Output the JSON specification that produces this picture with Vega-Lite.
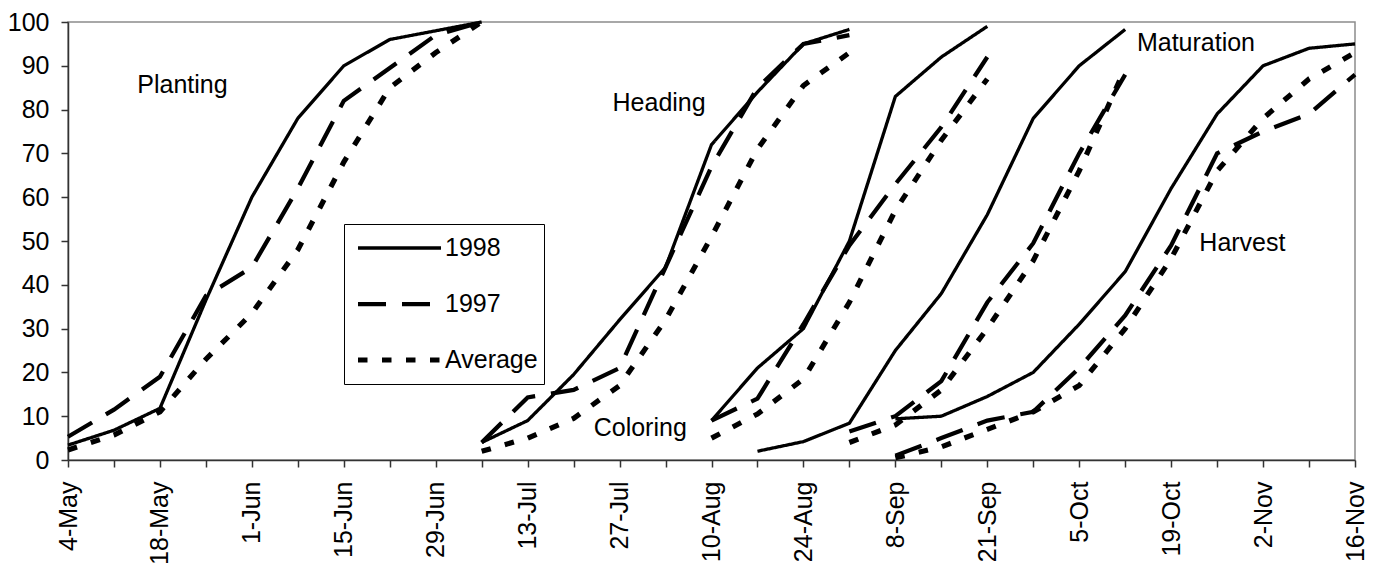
{
  "$schema": "https://vega.github.io/schema/vega-lite/v6.json",
  "width": 1287,
  "height": 438,
  "autosize": "none",
  "padding": {"left": 68, "top": 22, "right": 24, "bottom": 105},
  "background": "white",
  "config": {
    "font": "Liberation Sans",
    "view": {"stroke": "#8c8c8c", "strokeWidth": 1.5}
  },
  "datasets": {
    "progress": [
      {"stage": "Planting", "series": "1998", "week": 0, "pct": 3.4},
      {"stage": "Planting", "series": "1998", "week": 1, "pct": 6.8},
      {"stage": "Planting", "series": "1998", "week": 2, "pct": 11.8},
      {"stage": "Planting", "series": "1998", "week": 3, "pct": 36.5},
      {"stage": "Planting", "series": "1998", "week": 4, "pct": 60},
      {"stage": "Planting", "series": "1998", "week": 5, "pct": 78},
      {"stage": "Planting", "series": "1998", "week": 6, "pct": 90},
      {"stage": "Planting", "series": "1998", "week": 7, "pct": 96},
      {"stage": "Planting", "series": "1998", "week": 8, "pct": 98},
      {"stage": "Planting", "series": "1998", "week": 9, "pct": 100},
      {"stage": "Planting", "series": "1997", "week": 0, "pct": 5.3},
      {"stage": "Planting", "series": "1997", "week": 1, "pct": 11.5},
      {"stage": "Planting", "series": "1997", "week": 2, "pct": 19},
      {"stage": "Planting", "series": "1997", "week": 3, "pct": 37.5},
      {"stage": "Planting", "series": "1997", "week": 4, "pct": 44},
      {"stage": "Planting", "series": "1997", "week": 5, "pct": 62},
      {"stage": "Planting", "series": "1997", "week": 6, "pct": 82},
      {"stage": "Planting", "series": "1997", "week": 7, "pct": 89.5},
      {"stage": "Planting", "series": "1997", "week": 8, "pct": 97},
      {"stage": "Planting", "series": "1997", "week": 9, "pct": 100},
      {"stage": "Planting", "series": "Average", "week": 0, "pct": 2.3},
      {"stage": "Planting", "series": "Average", "week": 1, "pct": 5.7},
      {"stage": "Planting", "series": "Average", "week": 2, "pct": 11},
      {"stage": "Planting", "series": "Average", "week": 3, "pct": 23},
      {"stage": "Planting", "series": "Average", "week": 4, "pct": 33.5},
      {"stage": "Planting", "series": "Average", "week": 5, "pct": 48},
      {"stage": "Planting", "series": "Average", "week": 6, "pct": 68},
      {"stage": "Planting", "series": "Average", "week": 7, "pct": 85},
      {"stage": "Planting", "series": "Average", "week": 8, "pct": 93},
      {"stage": "Planting", "series": "Average", "week": 9, "pct": 100},

      {"stage": "Heading", "series": "1998", "week": 9, "pct": 4},
      {"stage": "Heading", "series": "1998", "week": 10, "pct": 9},
      {"stage": "Heading", "series": "1998", "week": 11, "pct": 19.5},
      {"stage": "Heading", "series": "1998", "week": 12, "pct": 32},
      {"stage": "Heading", "series": "1998", "week": 13, "pct": 44},
      {"stage": "Heading", "series": "1998", "week": 14, "pct": 72},
      {"stage": "Heading", "series": "1998", "week": 15, "pct": 84},
      {"stage": "Heading", "series": "1998", "week": 16, "pct": 95},
      {"stage": "Heading", "series": "1998", "week": 17, "pct": 98.3},
      {"stage": "Heading", "series": "1997", "week": 9, "pct": 4},
      {"stage": "Heading", "series": "1997", "week": 10, "pct": 14.3},
      {"stage": "Heading", "series": "1997", "week": 11, "pct": 16},
      {"stage": "Heading", "series": "1997", "week": 12, "pct": 21},
      {"stage": "Heading", "series": "1997", "week": 13, "pct": 44},
      {"stage": "Heading", "series": "1997", "week": 14, "pct": 67},
      {"stage": "Heading", "series": "1997", "week": 15, "pct": 85},
      {"stage": "Heading", "series": "1997", "week": 16, "pct": 95},
      {"stage": "Heading", "series": "1997", "week": 17, "pct": 97},
      {"stage": "Heading", "series": "Average", "week": 9, "pct": 2},
      {"stage": "Heading", "series": "Average", "week": 10, "pct": 5},
      {"stage": "Heading", "series": "Average", "week": 11, "pct": 9.5},
      {"stage": "Heading", "series": "Average", "week": 12, "pct": 17},
      {"stage": "Heading", "series": "Average", "week": 13, "pct": 32},
      {"stage": "Heading", "series": "Average", "week": 14, "pct": 51},
      {"stage": "Heading", "series": "Average", "week": 15, "pct": 71},
      {"stage": "Heading", "series": "Average", "week": 16, "pct": 85.5},
      {"stage": "Heading", "series": "Average", "week": 17, "pct": 93},

      {"stage": "Coloring", "series": "1998", "week": 14, "pct": 9},
      {"stage": "Coloring", "series": "1998", "week": 15, "pct": 21},
      {"stage": "Coloring", "series": "1998", "week": 16, "pct": 30},
      {"stage": "Coloring", "series": "1998", "week": 17, "pct": 50},
      {"stage": "Coloring", "series": "1998", "week": 18, "pct": 83},
      {"stage": "Coloring", "series": "1998", "week": 19, "pct": 92},
      {"stage": "Coloring", "series": "1998", "week": 20, "pct": 99},
      {"stage": "Coloring", "series": "1997", "week": 14, "pct": 9},
      {"stage": "Coloring", "series": "1997", "week": 15, "pct": 14},
      {"stage": "Coloring", "series": "1997", "week": 16, "pct": 31},
      {"stage": "Coloring", "series": "1997", "week": 17, "pct": 49},
      {"stage": "Coloring", "series": "1997", "week": 18, "pct": 63},
      {"stage": "Coloring", "series": "1997", "week": 19, "pct": 76},
      {"stage": "Coloring", "series": "1997", "week": 20, "pct": 92},
      {"stage": "Coloring", "series": "Average", "week": 14, "pct": 5},
      {"stage": "Coloring", "series": "Average", "week": 15, "pct": 10.5},
      {"stage": "Coloring", "series": "Average", "week": 16, "pct": 18.5},
      {"stage": "Coloring", "series": "Average", "week": 17, "pct": 36},
      {"stage": "Coloring", "series": "Average", "week": 18, "pct": 57},
      {"stage": "Coloring", "series": "Average", "week": 19, "pct": 73},
      {"stage": "Coloring", "series": "Average", "week": 20, "pct": 87},

      {"stage": "Maturation", "series": "1998", "week": 15, "pct": 2},
      {"stage": "Maturation", "series": "1998", "week": 16, "pct": 4.2},
      {"stage": "Maturation", "series": "1998", "week": 17, "pct": 8.4},
      {"stage": "Maturation", "series": "1998", "week": 18, "pct": 25},
      {"stage": "Maturation", "series": "1998", "week": 19, "pct": 38},
      {"stage": "Maturation", "series": "1998", "week": 20, "pct": 56},
      {"stage": "Maturation", "series": "1998", "week": 21, "pct": 78},
      {"stage": "Maturation", "series": "1998", "week": 22, "pct": 90},
      {"stage": "Maturation", "series": "1998", "week": 23, "pct": 98.3},
      {"stage": "Maturation", "series": "1997", "week": 17, "pct": 6.5},
      {"stage": "Maturation", "series": "1997", "week": 18, "pct": 10},
      {"stage": "Maturation", "series": "1997", "week": 19, "pct": 18},
      {"stage": "Maturation", "series": "1997", "week": 20, "pct": 36},
      {"stage": "Maturation", "series": "1997", "week": 21, "pct": 49.5},
      {"stage": "Maturation", "series": "1997", "week": 22, "pct": 70},
      {"stage": "Maturation", "series": "1997", "week": 23, "pct": 88},
      {"stage": "Maturation", "series": "Average", "week": 17, "pct": 4},
      {"stage": "Maturation", "series": "Average", "week": 18, "pct": 8},
      {"stage": "Maturation", "series": "Average", "week": 19, "pct": 16},
      {"stage": "Maturation", "series": "Average", "week": 20, "pct": 30},
      {"stage": "Maturation", "series": "Average", "week": 21, "pct": 45.5},
      {"stage": "Maturation", "series": "Average", "week": 22, "pct": 66},
      {"stage": "Maturation", "series": "Average", "week": 23, "pct": 89.5},

      {"stage": "Harvest", "series": "1998", "week": 18, "pct": 9.4},
      {"stage": "Harvest", "series": "1998", "week": 19, "pct": 10},
      {"stage": "Harvest", "series": "1998", "week": 20, "pct": 14.5},
      {"stage": "Harvest", "series": "1998", "week": 21, "pct": 20},
      {"stage": "Harvest", "series": "1998", "week": 22, "pct": 31},
      {"stage": "Harvest", "series": "1998", "week": 23, "pct": 43},
      {"stage": "Harvest", "series": "1998", "week": 24, "pct": 62},
      {"stage": "Harvest", "series": "1998", "week": 25, "pct": 79},
      {"stage": "Harvest", "series": "1998", "week": 26, "pct": 90},
      {"stage": "Harvest", "series": "1998", "week": 27, "pct": 94},
      {"stage": "Harvest", "series": "1998", "week": 28, "pct": 95},
      {"stage": "Harvest", "series": "1997", "week": 18, "pct": 1},
      {"stage": "Harvest", "series": "1997", "week": 19, "pct": 5},
      {"stage": "Harvest", "series": "1997", "week": 20, "pct": 9},
      {"stage": "Harvest", "series": "1997", "week": 21, "pct": 11},
      {"stage": "Harvest", "series": "1997", "week": 22, "pct": 21},
      {"stage": "Harvest", "series": "1997", "week": 23, "pct": 33},
      {"stage": "Harvest", "series": "1997", "week": 24, "pct": 49},
      {"stage": "Harvest", "series": "1997", "week": 25, "pct": 70},
      {"stage": "Harvest", "series": "1997", "week": 26, "pct": 75},
      {"stage": "Harvest", "series": "1997", "week": 27, "pct": 79},
      {"stage": "Harvest", "series": "1997", "week": 28, "pct": 88},
      {"stage": "Harvest", "series": "Average", "week": 18, "pct": 0.5},
      {"stage": "Harvest", "series": "Average", "week": 19, "pct": 3},
      {"stage": "Harvest", "series": "Average", "week": 20, "pct": 7},
      {"stage": "Harvest", "series": "Average", "week": 21, "pct": 11},
      {"stage": "Harvest", "series": "Average", "week": 22, "pct": 17},
      {"stage": "Harvest", "series": "Average", "week": 23, "pct": 30},
      {"stage": "Harvest", "series": "Average", "week": 24, "pct": 46},
      {"stage": "Harvest", "series": "Average", "week": 25, "pct": 66},
      {"stage": "Harvest", "series": "Average", "week": 26, "pct": 78},
      {"stage": "Harvest", "series": "Average", "week": 27, "pct": 87},
      {"stage": "Harvest", "series": "Average", "week": 28, "pct": 93}
    ],
    "labels": [
      {"label": "Planting", "week": 2.49, "pct": 85.6},
      {"label": "Heading", "week": 12.86, "pct": 81.5},
      {"label": "Coloring", "week": 12.45, "pct": 7.3},
      {"label": "Maturation", "week": 24.54, "pct": 95.2},
      {"label": "Harvest", "week": 25.55, "pct": 49.5}
    ]
  },
  "layer": [
    {
      "data": {"name": "progress"},
      "mark": {"type": "line", "color": "black", "strokeCap": "butt", "strokeJoin": "miter"},
      "encoding": {
        "x": {
          "field": "week", "type": "quantitative",
          "scale": {"domain": [0, 28], "nice": false, "zero": false},
          "axis": {
            "title": null, "grid": false,
            "values": [0,1,2,3,4,5,6,7,8,9,10,11,12,13,14,15,16,17,18,19,20,21,22,23,24,25,26,27,28],
            "labelExpr": "datum.value % 2 == 0 ? ['4-May','18-May','1-Jun','15-Jun','29-Jun','13-Jul','27-Jul','10-Aug','24-Aug','8-Sep','21-Sep','5-Oct','19-Oct','2-Nov','16-Nov'][datum.value / 2] : ''",
            "labelAngle": 270, "labelAlign": "right", "labelBaseline": "middle",
            "labelFontSize": 25, "labelColor": "black", "labelPadding": 14,
            "labelOverlap": false, "labelFlush": false,
            "tickSize": 7, "tickColor": "#333", "tickWidth": 1.5,
            "domainColor": "#333", "domainWidth": 1.5
          }
        },
        "y": {
          "field": "pct", "type": "quantitative",
          "scale": {"domain": [0, 100], "nice": false},
          "axis": {
            "title": null, "grid": false,
            "values": [0,10,20,30,40,50,60,70,80,90,100],
            "labelFontSize": 25, "labelColor": "black", "labelPadding": 12,
            "labelOverlap": false, "labelFlush": false,
            "tickSize": 7, "tickColor": "#333", "tickWidth": 1.5,
            "domainColor": "#333", "domainWidth": 1.5
          }
        },
        "detail": {"field": "stage", "type": "nominal"},
        "strokeDash": {
          "field": "series", "type": "nominal",
          "scale": {"domain": ["1998", "1997", "Average"], "range": [[1, 0], [28, 16], [9.5, 14.5]]},
          "legend": {
            "title": null, "orient": "none", "legendX": 276, "legendY": 202,
            "symbolType": "stroke", "symbolSize": 6889, "symbolStrokeColor": "black",
            "symbolOffset": 5, "clipHeight": 36,
            "labelFontSize": 25, "labelColor": "black", "labelOffset": 1,
            "padding": 6, "rowPadding": 20,
            "strokeColor": "black", "fillColor": "white"
          }
        },
        "strokeWidth": {
          "field": "series", "type": "nominal",
          "scale": {"domain": ["1998", "1997", "Average"], "range": [3.3, 5.2, 4.5]},
          "legend": {
            "title": null, "orient": "none", "legendX": 276, "legendY": 202,
            "symbolType": "stroke", "symbolSize": 6889, "symbolStrokeColor": "black",
            "symbolOffset": 5, "clipHeight": 36,
            "labelFontSize": 25, "labelColor": "black", "labelOffset": 1,
            "padding": 6, "rowPadding": 20,
            "strokeColor": "black", "fillColor": "white"
          }
        }
      }
    },
    {
      "data": {"name": "labels"},
      "mark": {"type": "text", "fontSize": 25, "color": "black", "align": "center", "baseline": "middle"},
      "encoding": {
        "x": {"field": "week", "type": "quantitative"},
        "y": {"field": "pct", "type": "quantitative"},
        "text": {"field": "label", "type": "nominal"}
      }
    }
  ]
}
